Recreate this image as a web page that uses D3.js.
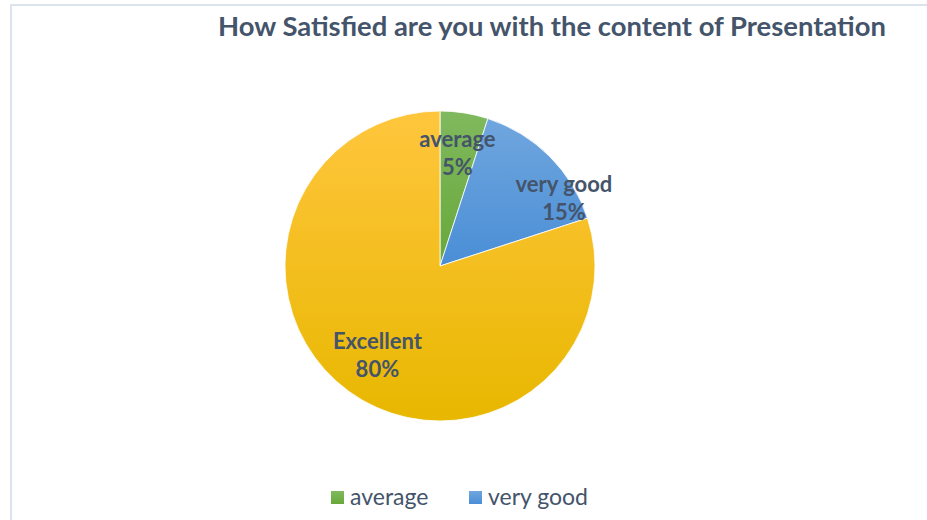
<!DOCTYPE html>
<meta charset="utf-8">
<head>
  <title>How Satisfied are you with the content of Presentation</title>
  <script src="https://d3js.org/d3.v7.min.js"></script>
  <style>
    body { margin: 0; background: #ffffff; }
    text { font-family: Lato, "Open Sans", sans-serif; fill: #44546a; }
  </style>
</head>
<body>
  <div id="chart"></div>
  <script>
    var categories = ["average", "very good", "Excellent"];
    var values = [5, 15, 80];
    var legendItems = ["average", "very good"];
    var title = "How Satisfied are you with the content of Presentation";

    var width = 927, height = 520;
    var cx = 440, cy = 266, radius = 155;

    // colours: [top, bottom] of each slice's gradient
    var colors = {
      "average": ["#80b95e", "#68a83a"],
      "very good": ["#70a6de", "#4a8ed6"],
      "Excellent": ["#ffc63d", "#e8b700"]
    };
    // small nudges so the labels sit where the original has them
    var labelNudge = {
      "average": [0, 5],
      "very good": [45, 19],
      "Excellent": [3, 7]
    };

    var svg = d3.select("#chart")
      .append("svg")
      .attr("width", width)
      .attr("height", height);

    // frame of the chart area (left and top edges visible)
    svg.append("path")
      .attr("d", "M11,520 V5 H927")
      .attr("fill", "none")
      .attr("stroke", "#dde3ec")
      .attr("stroke-width", 2);

    var defs = svg.append("defs");
    categories.forEach(function (c, i) {
      var g = defs.append("linearGradient")
        .attr("id", "grad" + i)
        .attr("x1", 0).attr("y1", 0).attr("x2", 0).attr("y2", 1);
      g.append("stop").attr("offset", "0%").attr("stop-color", colors[c][0]);
      g.append("stop").attr("offset", "100%").attr("stop-color", colors[c][1]);
    });

    var t = svg.append("text")
      .attr("x", 552)
      .attr("y", 36)
      .attr("text-anchor", "middle")
      .style("font-weight", "bold")
      .style("font-size", "24px")
      .text(title);
    var tw = t.node().getComputedTextLength();
    t.style("font-size", (24 * 668 / tw) + "px");

    var pie = d3.pie().sort(null).value(function (d) { return d; });
    var arcs = pie(values);
    var arc = d3.arc().innerRadius(0).outerRadius(radius);
    var labelArc = d3.arc().innerRadius(radius * 0.72).outerRadius(radius * 0.72);

    var g = svg.append("g").attr("transform", "translate(" + cx + "," + cy + ")");

    g.selectAll("path.slice")
      .data(arcs)
      .enter()
      .append("path")
      .attr("class", "slice")
      .attr("d", arc)
      .attr("fill", function (d, i) { return "url(#grad" + i + ")"; })
      .attr("stroke", "#ffffff")
      .attr("stroke-width", 0.8);

    var total = d3.sum(values);
    var labels = g.selectAll("text.lbl")
      .data(arcs)
      .enter()
      .append("text")
      .attr("class", "lbl")
      .attr("text-anchor", "middle")
      .style("font-weight", "bold")
      .style("font-size", "22px")
      .attr("transform", function (d, i) {
        var p = labelArc.centroid(d), n = labelNudge[categories[i]];
        return "translate(" + (p[0] + n[0]) + "," + (p[1] + n[1]) + ")";
      });
    labels.append("tspan")
      .attr("x", 0).attr("y", -14)
      .text(function (d, i) { return categories[i]; });
    labels.append("tspan")
      .attr("x", 0).attr("y", 14)
      .text(function (d) { return Math.round(d.value / total * 100) + "%"; });

    // legend
    var legendX = d3.scaleOrdinal().domain(legendItems).range([331, 469]);
    var leg = svg.append("g").selectAll("g")
      .data(legendItems)
      .enter()
      .append("g")
      .attr("transform", function (d) { return "translate(" + legendX(d) + ",491)"; });
    leg.append("rect")
      .attr("width", 13).attr("height", 13)
      .attr("fill", function (d) { return "url(#grad" + categories.indexOf(d) + ")"; });
    leg.append("text")
      .attr("x", 19).attr("y", 14)
      .style("font-size", "23px")
      .text(function (d) { return d; });
  </script>
</body>
</html>
